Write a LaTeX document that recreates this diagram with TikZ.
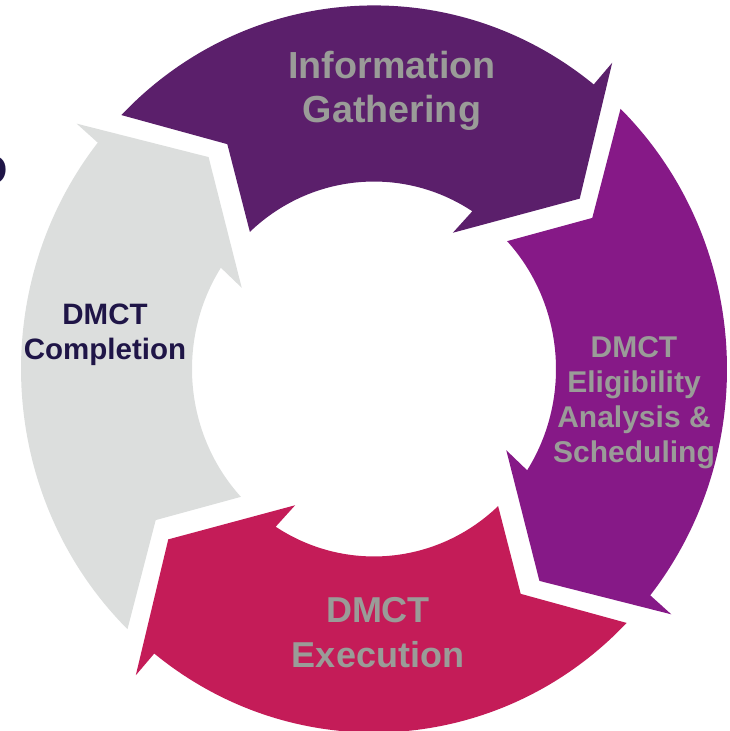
\documentclass[tikz,border=0pt]{standalone}
\usepackage{fontspec}
\setmainfont{Liberation Sans}
\definecolor{gatherpurple}{HTML}{5B1F6B}
\definecolor{schedpurple}{HTML}{861987}
\definecolor{execred}{HTML}{C41C58}
\definecolor{completegray}{HTML}{DCDEDD}
\definecolor{labelgray}{HTML}{9A9C98}
\definecolor{labelnavy}{HTML}{1F1547}

\begin{document}
\begin{tikzpicture}[x=1pt,y=1pt,
	lbl/.style={align=center,inner sep=0pt,anchor=base}]
	\useasboundingbox (0,0) rectangle (729,731);
	% ring of four arrows
	\begin{scope}[shift={(374,362)},yscale=1.03]
		\foreach \ang/\col in {0/gatherpurple,-90/schedpurple,-180/execred,-270/completegray}{
			\begin{scope}[rotate=\ang]
				\fill[\col] (135.7:353pt) arc[start angle=135.7,end angle=51.5,radius=353pt]
					-- (51.3:381pt) -- (38.8:264pt) -- (59.2:154pt) -- (57.3:182pt)
					arc[start angle=57.3,end angle=133,radius=182pt] -- (123.9:263pt) -- cycle;
			\end{scope}
		}
	\end{scope}
	% labels (base = last line)
	\node[lbl,labelgray,font=\fontsize{37.7}{44}\selectfont\bfseries] (gather) at (392,608) {Information\\Gathering};
	\node[lbl,labelgray,font=\fontsize{30}{35.3}\selectfont\bfseries] (sched) at (634,268) {DMCT\\Eligibility\\Analysis \&\\Scheduling};
	\node[lbl,labelgray,font=\fontsize{36}{45}\selectfont\bfseries] (exec) at (378,63) {DMCT\\Execution};
	\node[lbl,labelnavy,font=\fontsize{29.5}{35}\selectfont\bfseries] (complete) at (105,371) {DMCT\\Completion};
	\node[anchor=base east,inner sep=0pt,labelnavy,font=\fontsize{42}{42}\selectfont\bfseries] (cut) at (8,546) {D};
\end{tikzpicture}
\end{document}
